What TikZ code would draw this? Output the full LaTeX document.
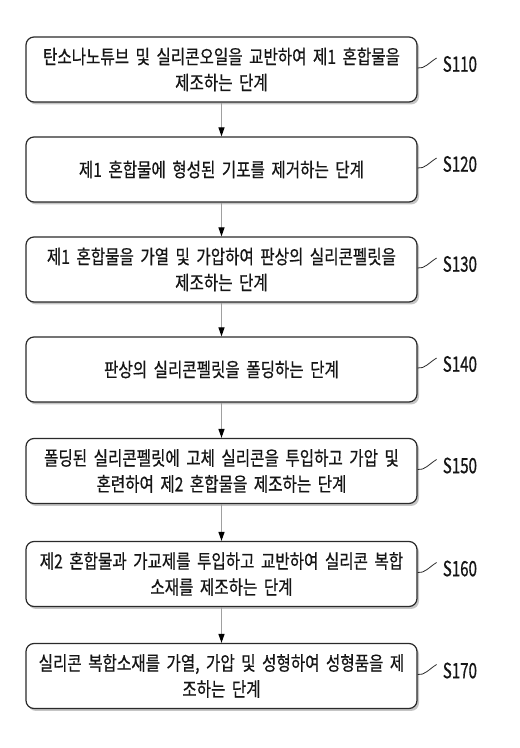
\documentclass[tikz,border=0pt]{standalone}
\usepackage{fontspec}
\newfontfamily\kr[FakeStretch=0.8,FakeBold=0.6]{Noto Sans CJK KR}
\newfontfamily\lbl[FakeStretch=0.72,FakeBold=0.6]{Noto Sans CJK KR}
\usetikzlibrary{shadows,arrows.meta}
\definecolor{txt}{HTML}{151515}
\definecolor{edge}{HTML}{2A2A2A}
\definecolor{arr}{HTML}{A0A0A0}
\tikzset{
  stepbox/.style={draw=edge, line width=1.2pt, rounded corners=8pt, fill=white,
    minimum width=391pt, minimum height=65pt, text width=389pt, align=center,
    font=\kr\fontsize{19.5}{26}\selectfont, text=txt, inner sep=0pt,
    drop shadow={opacity=0.45, shadow xshift=2pt, shadow yshift=-2.5pt}},
  steplbl/.style={font=\lbl\fontsize{21}{22}\selectfont, text=txt, anchor=west, inner sep=0pt},
  flow/.style={draw=arr, line width=1.1pt, -{Triangle[length=9pt,width=6pt,fill=black,color=black]}},
  squig/.style={draw=edge, line width=0.8pt}
}
\begin{document}
\begin{tikzpicture}[x=1pt,y=1pt]
\useasboundingbox (0,0) rectangle (520,748);
\fill[white] (0,0) rectangle (520,748);
\node[stepbox] (b1) at (221.5,748-69.5) {탄소나노튜브 및 실리콘오일을 교반하여 제1 혼합물을\\제조하는 단계};
\node[stepbox] (b2) at (221.5,748-169.5) {제1 혼합물에 형성된 기포를 제거하는 단계};
\node[stepbox] (b3) at (221.5,748-269.5) {제1 혼합물을 가열 및 가압하여 판상의 실리콘펠릿을\\제조하는 단계};
\node[stepbox] (b4) at (221.5,748-369.5) {판상의 실리콘펠릿을 폴딩하는 단계};
\node[stepbox] (b5) at (221.5,748-471) {폴딩된 실리콘펠릿에 고체 실리콘을 투입하고 가압 및\\혼련하여 제2 혼합물을 제조하는 단계};
\node[stepbox] (b6) at (221.5,748-574) {제2 혼합물과 가교제를 투입하고 교반하여 실리콘 복합\\소재를 제조하는 단계};
\node[stepbox] (b7) at (221.5,748-676) {실리콘 복합소재를 가열, 가압 및 성형하여 성형품을 제\\조하는 단계};
\foreach \a/\b in {b1/b2,b2/b3,b3/b4,b4/b5,b5/b6,b6/b7}{
  \draw[flow] (\a.south) -- (\b.north);
}
\foreach \n/\t in {b1/S110,b2/S120,b3/S130,b4/S140,b5/S150,b6/S160,b7/S170}{
  \coordinate (\n s) at ([yshift=1.5pt]\n.east);
  \coordinate (\n e) at ([xshift=19pt,yshift=11.5pt]\n.east);
  \draw[squig] (\n s) .. controls +(7pt,-1pt) and +(-8pt,-5pt) .. (\n e);
  \node[steplbl] (\n l) at ([xshift=25pt,yshift=5.5pt]\n.east) {\t};
}
\end{tikzpicture}
\end{document}
